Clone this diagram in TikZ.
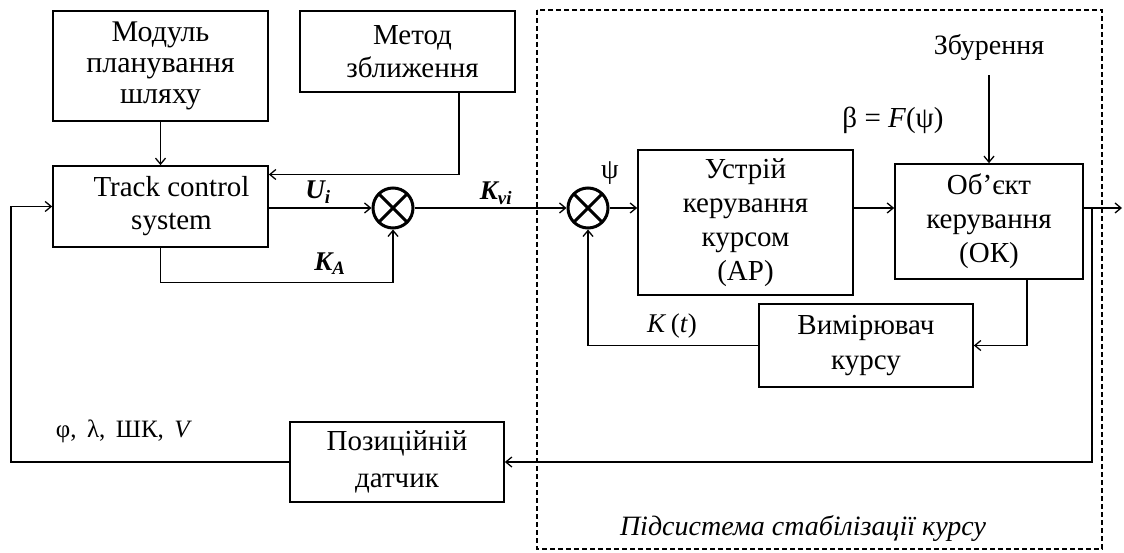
\documentclass[tikz,border=0pt]{standalone}
\usepackage{fontspec}
\setmainfont{Liberation Serif}
\usetikzlibrary{arrows.meta}

\begin{document}
\begin{tikzpicture}[x=1pt,y=-1pt,
  box/.style={draw, line width=1.7pt, inner sep=0pt, align=center,
    font=\fontsize{29}{33}\selectfont},
  sumnode/.style={circle, draw, line width=3pt, minimum size=40pt, inner sep=0pt,
    path picture={\draw[line width=3pt]
      (path picture bounding box.north west) -- (path picture bounding box.south east)
      (path picture bounding box.north east) -- (path picture bounding box.south west);}},
  wire/.style={line width=1.3pt},
  arr/.style={wire, -{Straight Barb[length=6pt,width=10pt,line width=1.3pt]}},
  lab/.style={inner sep=0pt, font=\fontsize{28}{32}\selectfont},
  sig/.style={inner sep=0pt, font=\fontsize{27}{30}\selectfont\bfseries\itshape},
  frame/.style={line width=1.5pt, dash pattern=on 5pt off 3pt}
]
\useasboundingbox (0,0) rectangle (1124,553);

% subsystem frame
\draw[frame] (537,10) rectangle (1102,549);

% blocks
\node[box, minimum width=215pt, minimum height=110pt, font=\fontsize{30}{31}\selectfont] (plan) at (160.5,66)
  {Модуль\\планування\\шляху};
\node[box, minimum width=215pt, minimum height=81pt] (method) at (407.5,51.5)
  {\hspace*{10pt}Метод\\\hspace*{10pt}зближення};
\node[box, minimum width=215pt, minimum height=81pt] (track) at (160.5,206.5)
  {\hspace*{22pt}Track control\\\hspace*{22pt}system};
\node[box, minimum width=215pt, minimum height=145pt, font=\fontsize{29}{34}\selectfont] (ctrl) at (745.5,222.5)
  {Устрій\\керування\\курсом\\(АР)};
\node[box, minimum width=188pt, minimum height=115pt, font=\fontsize{29}{34}\selectfont] (obj) at (989,221.5)
  {Об’єкт\\керування\\(ОК)};
\node[box, minimum width=214pt, minimum height=83pt, font=\fontsize{29}{35}\selectfont] (meas) at (866,345.5)
  {Вимірювач\\курсу};
\node[box, minimum width=214pt, minimum height=80pt, font=\fontsize{29}{37}\selectfont] (pos) at (397,462)
  {Позиційній\\датчик};

% summing junctions
\node[sumnode] (sum1) at (393,208) {};
\node[sumnode] (sum2) at (588,208) {};

% disturbance input
\node[inner sep=0pt, minimum height=54pt, font=\fontsize{28}{33}\selectfont] (dist) at (989,48) {Збурення};

% free ends
\coordinate (out) at (1122,208);
\coordinate (tap) at (1092,208);
\coordinate (lft) at (11,462);

% connectors
\draw[arr] (plan.south) -- (track.north);
\draw[arr] ([xshift=51.5pt]method.south) |- ([yshift=32pt]track.east);
\draw[arr] (track.east |- sum1.west) -- (sum1.west);
\draw[arr] (track.south) -- ++(0,35) -| (sum1.south);
\draw[arr] (sum1.east) -- (sum2.west);
\draw[arr] (sum2.east) -- (ctrl.west |- sum2.east);
\draw[arr] (ctrl.east |- sum2.east) -- (obj.west |- sum2.east);
\draw[arr] (obj.east |- sum2.east) -- (out);
\draw[arr] (dist.south) -- (obj.north);
\draw[arr] (tap) |- (pos.east);
\draw[arr] ([xshift=38pt]obj.south) |- (meas.east);
\draw[arr] (meas.west) -| (sum2.south);
\draw[arr] (pos.west) -- (lft) |- (track.west);

% signal labels
\node[sig] (ui) at (318,192) {U\textsubscript{i}};
\node[sig] (ka) at (330,264) {K\textsubscript{A}};
\node[sig] (kvi) at (496,193) {K\textsubscript{vi}};
\node[lab] (psi) at (610,173) {ψ};
\node[lab, font=\fontsize{29}{32}\selectfont] (beta) at (893,120) {β = \textit{F}(ψ)};
\node[lab, font=\fontsize{27}{30}\selectfont] (kt) at (672,326) {\textit{K}\,(\textit{t})};
\node[lab, font=\fontsize{25}{28}\selectfont] (nav) at (124,431) {φ,\, λ,\, ШК,\, \textit{V}};
\node[lab, font=\fontsize{28}{32}\selectfont\itshape] (sub) at (803,528)
  {Підсистема стабілізації курсу};
\end{tikzpicture}
\end{document}
